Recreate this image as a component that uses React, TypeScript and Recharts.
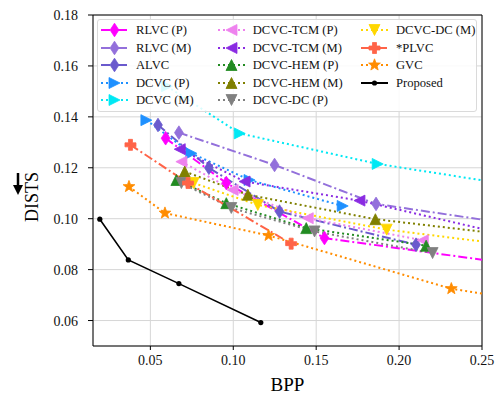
import { LineChart, Line, XAxis, YAxis, CartesianGrid, ReferenceLine, Legend } from 'recharts';

// BPP / DISTS (points past 0.25 only carry the line to the frame edge)
const rlvcPBpp = [0.0592, 0.0958, 0.155, 0.3];
const rlvcPDists = [0.1316, 0.114, 0.0924, 0.0794];
const rlvcMBpp = [0.0672, 0.1249, 0.1861, 0.3];
const rlvcMDists = [0.1338, 0.1211, 0.1058, 0.0948];
const alvcBpp = [0.0546, 0.0853, 0.1279, 0.2102];
const alvcDists = [0.1368, 0.12, 0.1028, 0.0898];
const dcvcPBpp = [0.0476, 0.0747, 0.1098, 0.166];
const dcvcPDists = [0.1387, 0.1257, 0.1152, 0.105];
const dcvcMBpp = [0.06, 0.1039, 0.1871, 0.3];
const dcvcMDists = [0.152, 0.1335, 0.1215, 0.11];
const tcmPBpp = [0.0687, 0.0996, 0.1449, 0.2143];
const tcmPDists = [0.1224, 0.1113, 0.1002, 0.0915];
const tcmMBpp = [0.0677, 0.1068, 0.1761, 0.3];
const tcmMDists = [0.1273, 0.1146, 0.1071, 0.0885];
const hemPBpp = [0.0657, 0.0958, 0.144, 0.2163];
const hemPDists = [0.1152, 0.1061, 0.0963, 0.0894];
const hemMBpp = [0.0707, 0.1088, 0.1857, 0.3];
const hemMDists = [0.1185, 0.1094, 0.0998, 0.0911];
const dcPBpp = [0.0687, 0.0988, 0.149, 0.2202];
const dcPDists = [0.114, 0.1042, 0.095, 0.0865];
const dcMBpp = [0.0761, 0.1148, 0.1925, 0.3];
const dcMDists = [0.114, 0.1054, 0.0957, 0.087];
const plvcBpp = [0.038, 0.0727, 0.1349];
const plvcDists = [0.129, 0.114, 0.0902];
const gvcBpp = [0.0371, 0.0588, 0.1213, 0.2315, 0.3];
const gvcDists = [0.1126, 0.1022, 0.0934, 0.0725, 0.0655];
const proposedBpp = [0.0195, 0.0367, 0.0672, 0.1166];
const proposedDists = [0.0998, 0.0838, 0.0745, 0.0592];

const xTicks = [0.05, 0.1, 0.15, 0.2, 0.25];
const yTicks = [0.06, 0.08, 0.1, 0.12, 0.14, 0.16, 0.18];

const DASHDOT = '9 3 2 3';
const DOTTED = '2 3';
const FONT = '"Liberation Serif", "DejaVu Serif", serif';

const zip = (xs: number[], ys: number[]) => xs.map((bpp, i) => ({ bpp, dists: ys[i] }));

const series = [
  { name: 'RLVC (P)', color: '#ff00ff', dash: DASHDOT, marker: 'dia', data: zip(rlvcPBpp, rlvcPDists) },
  { name: 'RLVC (M)', color: '#9370db', dash: DASHDOT, marker: 'dia', data: zip(rlvcMBpp, rlvcMDists) },
  { name: 'ALVC', color: '#6a5acd', dash: DASHDOT, marker: 'dia', data: zip(alvcBpp, alvcDists) },
  { name: 'DCVC (P)', color: '#1e90ff', dash: DOTTED, marker: 'right', data: zip(dcvcPBpp, dcvcPDists) },
  { name: 'DCVC (M)', color: '#00e8f4', dash: DOTTED, marker: 'right', data: zip(dcvcMBpp, dcvcMDists) },
  { name: 'DCVC-TCM (P)', color: '#ee82ee', dash: DOTTED, marker: 'left', data: zip(tcmPBpp, tcmPDists) },
  { name: 'DCVC-TCM (M)', color: '#8a2be2', dash: DOTTED, marker: 'left', data: zip(tcmMBpp, tcmMDists) },
  { name: 'DCVC-HEM (P)', color: '#228b22', dash: DOTTED, marker: 'up', data: zip(hemPBpp, hemPDists) },
  { name: 'DCVC-HEM (M)', color: '#808000', dash: DOTTED, marker: 'up', data: zip(hemMBpp, hemMDists) },
  { name: 'DCVC-DC (P)', color: '#808080', dash: DOTTED, marker: 'down', data: zip(dcPBpp, dcPDists) },
  { name: 'DCVC-DC (M)', color: '#ffd700', dash: DOTTED, marker: 'down', data: zip(dcMBpp, dcMDists) },
  { name: '*PLVC', color: '#ff6347', dash: DASHDOT, marker: 'plus', data: zip(plvcBpp, plvcDists) },
  { name: 'GVC', color: '#ff8c00', dash: DOTTED, marker: 'star', data: zip(gvcBpp, gvcDists) },
  { name: 'Proposed', color: '#000000', dash: undefined, marker: 'dot', data: zip(proposedBpp, proposedDists) },
];

function Marker({ shape, color, cx, cy }: { shape: string; color: string; cx: number; cy: number }) {
  const s = 5.5;
  let pts = '';
  if (shape === 'dia') pts = `${cx},${cy - 6.8} ${cx + 4.4},${cy} ${cx},${cy + 6.8} ${cx - 4.4},${cy}`;
  else if (shape === 'up') pts = `${cx},${cy - s} ${cx + s},${cy + s} ${cx - s},${cy + s}`;
  else if (shape === 'down') pts = `${cx},${cy + s} ${cx + s},${cy - s} ${cx - s},${cy - s}`;
  else if (shape === 'right') pts = `${cx + s},${cy} ${cx - s},${cy - s} ${cx - s},${cy + s}`;
  else if (shape === 'left') pts = `${cx - s},${cy} ${cx + s},${cy - s} ${cx + s},${cy + s}`;
  else if (shape === 'star') {
    const p: string[] = [];
    for (let i = 0; i < 10; i++) {
      const r = i % 2 === 0 ? 6.2 : 2.6;
      const a = -Math.PI / 2 + (i * Math.PI) / 5;
      p.push(`${cx + r * Math.cos(a)},${cy + r * Math.sin(a)}`);
    }
    pts = p.join(' ');
  } else if (shape === 'plus') {
    const a = 5.5;
    const b = 2;
    pts = [
      [-b, -a], [b, -a], [b, -b], [a, -b], [a, b], [b, b], [b, a], [-b, a], [-b, b], [-a, b], [-a, -b], [-b, -b],
    ].map(([x, y]) => `${cx + x},${cy + y}`).join(' ');
  } else {
    return <circle cx={cx} cy={cy} r={2.6} fill={color} />;
  }
  return <polygon points={pts} fill={color} stroke={color} strokeWidth={0.8} strokeLinejoin="miter" />;
}

const renderLegend = () => {
  const colStarts = [3, 119.7, 263];
  return (
    <div
      style={{
        position: 'relative',
        width: 380,
        height: 93,
        border: '1px solid #dadada',
        borderRadius: 3,
        background: 'rgba(255,255,255,0.85)',
        fontFamily: FONT,
        fontSize: 12.6,
        color: '#111',
        boxSizing: 'border-box',
      }}
    >
      {series.map((s, i) => {
        const col = Math.floor(i / 5);
        const row = i % 5;
        const left = colStarts[col];
        const top = 10.3 + row * 17.5;
        return (
          <div key={s.name}>
            <svg width={28} height={14} style={{ position: 'absolute', left, top: top - 7 }}>
              <line x1={0} y1={7} x2={27} y2={7} stroke={s.color} strokeWidth={2} strokeDasharray={s.dash} />
              <Marker shape={s.marker} color={s.color} cx={13.5} cy={7} />
            </svg>
            <span style={{ position: 'absolute', left: left + 35, top: top - 8, lineHeight: '16px', whiteSpace: 'nowrap' }}>
              {s.name}
            </span>
          </div>
        );
      })}
    </div>
  );
};

const YLabel = () => (
  <g>
    <text x={38} y={197} transform="rotate(-90 38 197)" textAnchor="middle" fontFamily={FONT} fontSize={18} fill="#000">
      DISTS
    </text>
    <path d="M18 173 L18 187" stroke="#000" strokeWidth={2.5} />
    <path d="M13 185 L23 185 L18 195 Z" fill="#000" />
  </g>
);

const XLabel = () => (
  <text x={287.5} y={391} textAnchor="middle" fontFamily={FONT} fontSize={19} fill="#000">
    BPP
  </text>
);

export default function App() {
  return (
    <div style={{ width: 500, height: 394, background: '#fff' }}>
      <style>{'body{margin:0}'}</style>
      <LineChart width={500} height={394} margin={{ top: 15, right: 18, left: 0, bottom: 0 }}>
        <CartesianGrid stroke="#d6d6d6" strokeWidth={1} />
        <XAxis
          type="number"
          dataKey="bpp"
          domain={[0.0154, 0.25]}
          ticks={xTicks}
          allowDataOverflow
          height={48}
          tickFormatter={(v: number) => v.toFixed(2)}
          tick={{ fontFamily: FONT, fontSize: 14, fill: '#111' }}
          tickSize={4}
          tickMargin={5}
          stroke="#000"
          label={{ content: <XLabel /> }}
        />
        <YAxis
          type="number"
          domain={[0.05, 0.18]}
          ticks={yTicks}
          allowDataOverflow
          width={93}
          tickFormatter={(v: number) => v.toFixed(2)}
          tick={{ fontFamily: FONT, fontSize: 14, fill: '#111' }}
          tickSize={5}
          tickMargin={10}
          stroke="#000"
          label={{ content: <YLabel /> }}
        />
        <ReferenceLine x={0.25} stroke="#000" />
        <ReferenceLine y={0.18} stroke="#000" />
        {series.map((s) => (
          <Line
            key={s.name}
            data={s.data}
            dataKey="dists"
            name={s.name}
            stroke={s.color}
            strokeWidth={s.marker === 'dot' ? 1.6 : 2}
            strokeDasharray={s.dash}
            isAnimationActive={false}
            dot={(p: any) =>
              p.cx == null || p.cy == null ? (
                <g key={`${s.name}-${p.index}`} />
              ) : (
                <g key={`${s.name}-${p.index}`}>
                  <Marker shape={s.marker} color={s.color} cx={p.cx} cy={p.cy} />
                </g>
              )
            }
            activeDot={false}
          />
        ))}
        <Legend
          content={renderLegend}
          layout="vertical"
          align="center"
          verticalAlign="middle"
          wrapperStyle={{ top: 19, left: 97, width: 380, height: 93 }}
        />
      </LineChart>
    </div>
  );
}
